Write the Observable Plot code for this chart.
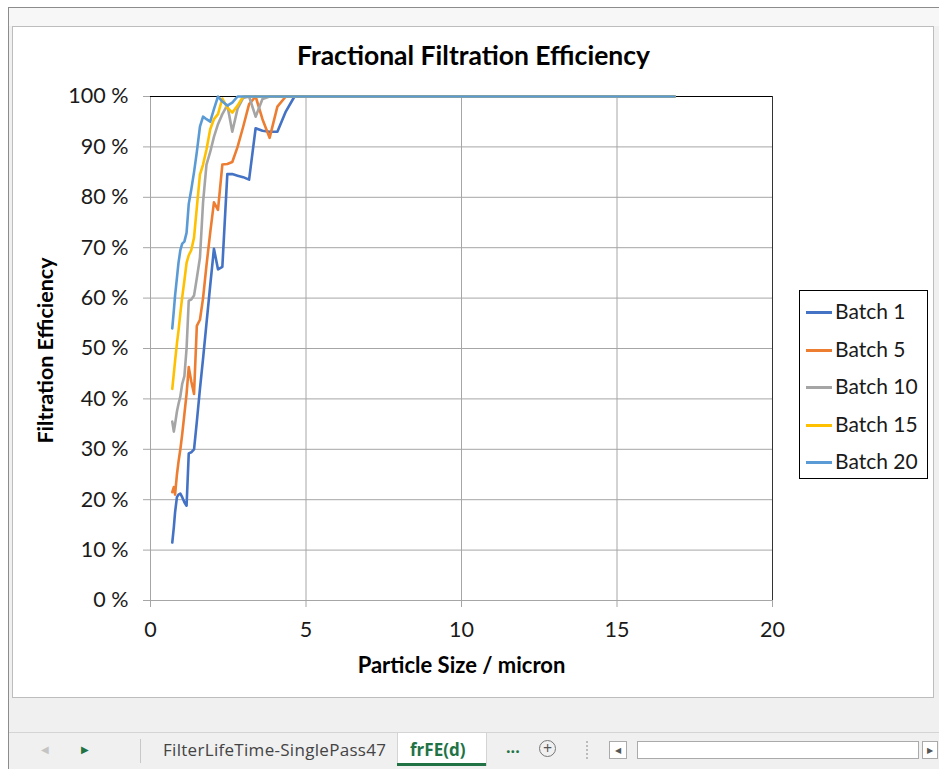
<!DOCTYPE html>
<html><head><meta charset="utf-8">
<script src="https://cdn.jsdelivr.net/npm/d3@7"></script>
<script src="https://cdn.jsdelivr.net/npm/@observablehq/plot@0.6"></script>
<style>
body{margin:0;width:939px;height:769px;overflow:hidden;background:#fff;font-family:Lato,"Open Sans",sans-serif;position:relative}
.abs{position:absolute}
#legend div{position:absolute;left:6px;height:22px;line-height:22px;font-size:21px;color:#1a1a1a;white-space:nowrap}
#legend span{display:inline-block;width:26px;height:3px;vertical-align:middle;margin-right:3px;position:relative;top:-1px}
#tabs div{position:absolute;white-space:nowrap}
</style></head><body>
<div class="abs" style="left:8px;top:7px;width:931px;height:762px;background:#f0f0f0;border-top:1px solid #8c8c8c;border-left:1px solid #8c8c8c;box-sizing:border-box"></div>
<div class="abs" style="left:9px;top:8px;width:930px;height:18px;background:#f7f7f7"></div>
<div class="abs" style="left:12px;top:26px;width:922px;height:672px;background:#fff;border:1px solid #bdbdbd;box-sizing:border-box"></div>
<div id="plot" class="abs" style="left:0;top:0"></div>
<div id="legend" class="abs" style="left:799px;top:290px;width:129px;height:189px;border:1px solid #000;box-sizing:border-box;background:#fff"></div>
<div id="tabs" class="abs" style="left:9px;top:732px;width:930px;height:37px;background:#f0f0f0;border-top:1px solid #d4d4d4;box-sizing:border-box;font-family:'Open Sans',Lato,sans-serif">
</div>
<script>
// Particle size channels (micron)
const sizes = [0.70,0.75,0.79,0.85,0.90,0.96,1.02,1.09,1.16,1.23,1.31,1.40,1.49,1.59,1.69,1.80,1.92,2.04,2.17,2.31,2.47,2.63,2.80,2.98,3.17,3.38,3.60,3.83,4.08,4.35,4.63,5.5,7,9,11,13,15,16.85];
// Filtration efficiency (%)
const batch1  = [11.5,14.5,17.5,20.5,21.0,21.2,20.5,19.5,18.8,29.2,29.4,30.0,35.5,42.0,48.0,55.0,62.5,69.8,65.7,66.2,84.6,84.6,84.3,84.0,83.5,93.7,93.2,93.0,93.0,97.0,100,100,100,100,100,100,100,100];
const batch5  = [21.5,22.5,21.0,25.0,27.5,30.0,33.0,37.0,41.0,46.3,43.5,41.0,54.5,55.7,60.0,66.5,73.0,79.0,77.5,86.5,86.6,87.0,90.0,94.0,98.5,100,95.5,91.8,98.0,100,100,100,100,100,100,100,100,100];
const batch10 = [35.5,33.5,35.0,37.5,39.0,40.5,43.0,44.5,50.0,59.5,59.7,60.5,64.0,68.0,79.0,86.5,89.0,92.0,94.5,96.5,98.3,93.0,97.6,99.7,100,96.0,99.5,100,100,100,100,100,100,100,100,100,100,100];
const batch15 = [42.0,45.0,47.5,51.0,53.5,57.0,60.2,63.5,67.0,68.5,69.5,72.0,78.0,84.5,86.5,89.5,93.5,95.5,96.5,99.6,97.8,96.8,98.2,100,100,100,100,100,100,100,100,100,100,100,100,100,100,100];
const batch20 = [54.0,57.5,60.5,64.0,67.0,69.5,70.8,71.2,73.0,78.7,81.5,85.0,89.0,94.0,96.0,95.5,95.0,97.5,100,99.0,98.2,98.8,100,100,100,100,100,100,100,100,100,100,100,100,100,100,100,100];
const seriesNames = ["Batch 1","Batch 5","Batch 10","Batch 15","Batch 20"];
const seriesColors = ["#4472C4","#ED7D31","#A5A5A5","#FFC000","#5B9BD5"];
const xTicks = [0,5,10,15,20];
const yTicks = [0,10,20,30,40,50,60,70,80,90,100];
const chartTitle = "Fractional Filtration Efficiency";
const xTitle = "Particle Size / micron";
const yTitle = "Filtration Efficiency";

const seriesValues = [batch1,batch5,batch10,batch15,batch20];
const rows = [];
seriesNames.forEach((name,i)=>sizes.forEach((s,j)=>rows.push({series:name,size:s,eff:seriesValues[i][j]})));

const grid = "#a6a6a6";
const chart = Plot.plot({
  width:939, height:769,
  marginLeft:150, marginRight:167, marginTop:96, marginBottom:169,
  style:{background:"transparent", fontFamily:"Lato, sans-serif", color:"#000"},
  x:{domain:[0,20], label:null},
  y:{domain:[0,100], label:null},
  color:{domain:seriesNames, range:seriesColors},
  marks:[
    Plot.gridY(yTicks,{stroke:grid,strokeOpacity:1}),
    Plot.gridX(xTicks,{stroke:grid,strokeOpacity:1}),
    Plot.axisY(yTicks,{tickSize:7,tickPadding:15,stroke:grid,strokeOpacity:1,fill:"#1a1a1a",fontSize:21.5,tickFormat:d=>d+" %"}),
    Plot.axisX(xTicks,{tickSize:7,tickPadding:14,stroke:grid,strokeOpacity:1,fill:"#1a1a1a",fontSize:21.5}),
    Plot.ruleY([100],{stroke:"#000"}),
    Plot.ruleX([20],{stroke:"#333"}),
    Plot.line(rows,{x:"size",y:"eff",z:"series",stroke:"series",strokeWidth:2.6}),
    Plot.text([chartTitle],{frameAnchor:"top",lineAnchor:"middle",dx:12,dy:-40,fontSize:26.5,fontWeight:"bold",fill:"#000"}),
    Plot.text([xTitle],{frameAnchor:"bottom",lineAnchor:"middle",dy:65,fontSize:22,fontWeight:"bold",fill:"#000"}),
    Plot.text([yTitle],{frameAnchor:"left",textAnchor:"middle",lineAnchor:"middle",dx:-104,dy:2,rotate:-90,fontSize:21.5,fontWeight:"bold",fill:"#000"})
  ]
});
document.getElementById("plot").appendChild(chart);

const leg = document.getElementById("legend");
seriesNames.forEach((n,i)=>{
  const d = document.createElement("div");
  d.style.top = (9 + i*37.5) + "px";
  d.innerHTML = `<span style="background:${seriesColors[i]}"></span>${n}`;
  leg.appendChild(d);
});

document.getElementById("tabs").innerHTML = `
<div style="left:32px;top:9px;font-size:10px;color:#c4c4c4">&#9664;</div>
<div style="left:72px;top:9px;font-size:10px;color:#217346">&#9654;</div>
<div style="left:131px;top:6px;width:1px;height:24px;background:#c8c8c8"></div>
<div style="left:154px;top:5px;font-size:17px;color:#444;letter-spacing:0.3px">FilterLifeTime-SinglePass47</div>
<div style="left:388px;top:0px;width:88px;height:33px;background:#fff;border-left:1px solid #d4d4d4;border-right:1px solid #d4d4d4"></div>
<div style="left:388px;top:30px;width:89px;height:3px;background:#217346"></div>
<div style="left:401px;top:5px;font-size:17px;font-weight:bold;color:#217346">frFE(d)</div>
<div style="left:497px;top:3px;font-size:16px;font-weight:bold;color:#217346">...</div>
<div style="left:530px;top:7px;width:17px;height:17px;border:1px solid #777;border-radius:50%;box-sizing:border-box;text-align:center;line-height:14px;font-size:16px;color:#555">+</div>
<div style="left:577px;top:8px;width:1px;height:18px;border-left:2px dotted #bbb"></div>
<div style="left:600px;top:8px;width:18px;height:18px;border:1px solid #aaa;box-sizing:border-box;background:#fff;font-size:8px;color:#555;text-align:center;line-height:16px">&#9664;</div>
<div style="left:628px;top:8px;width:282px;height:18px;border:1px solid #aaa;box-sizing:border-box;background:#fff"></div>
<div style="left:913px;top:8px;width:16px;height:18px;border:1px solid #aaa;box-sizing:border-box;background:#fff;font-size:8px;color:#555;text-align:center;line-height:16px">&#9654;</div>
`;
</script>
</body></html>
